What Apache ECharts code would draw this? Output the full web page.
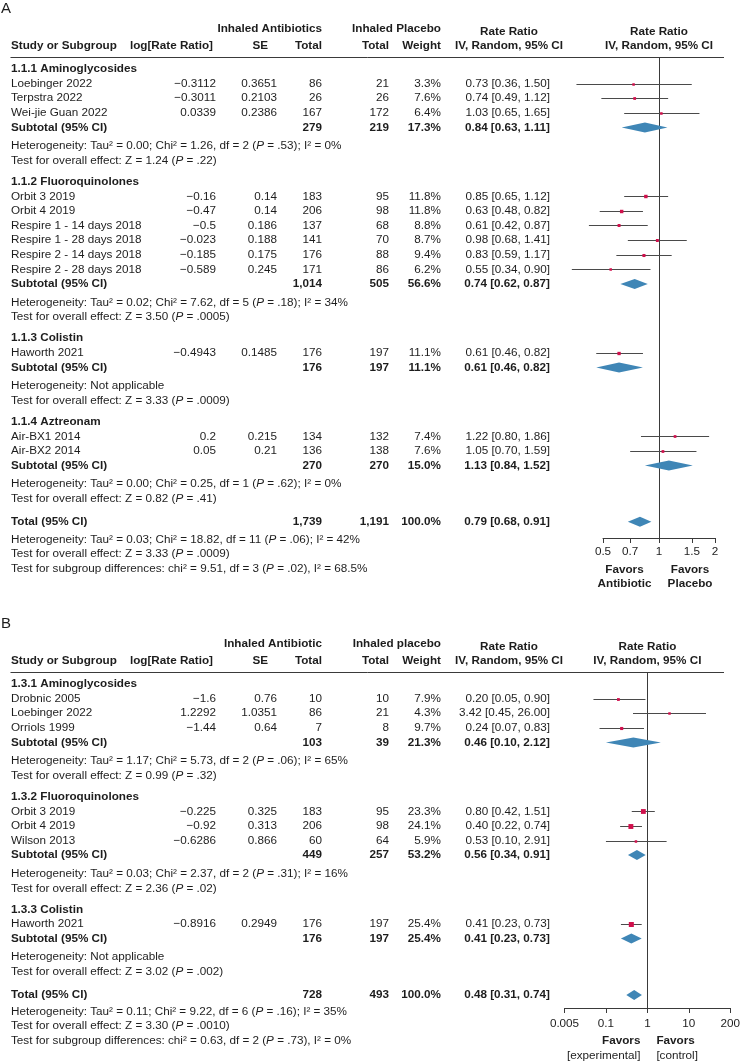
<!DOCTYPE html>
<html><head><meta charset="utf-8">
<script src="https://cdn.jsdelivr.net/npm/echarts@6/dist/echarts.min.js"></script>
<style>html,body{margin:0;padding:0;background:#fff}#c{width:743px;height:1062px}</style>
</head><body><div id="c"></div>
<script>
// ---------- Panel A data ----------
const aHeader = ["Inhaled Antibiotics", "Inhaled Placebo"];
const aGroups = ["1.1.1 Aminoglycosides", "1.1.2 Fluoroquinolones", "1.1.3 Colistin", "1.1.4 Aztreonam"];
const aStudy = ["Loebinger 2022", "Terpstra 2022", "Wei-jie Guan 2022", "Orbit 3 2019", "Orbit 4 2019",
  "Respire 1 - 14 days 2018", "Respire 1 - 28 days 2018", "Respire 2 - 14 days 2018", "Respire 2 - 28 days 2018",
  "Haworth 2021", "Air-BX1 2014", "Air-BX2 2014"];
const aStudyGroup = [0, 0, 0, 1, 1, 1, 1, 1, 1, 2, 3, 3];
const aLogRR = [-0.3112, -0.3011, 0.0339, -0.16, -0.47, -0.5, -0.023, -0.185, -0.589, -0.4943, 0.2, 0.05];
const aSE = [0.3651, 0.2103, 0.2386, 0.14, 0.14, 0.186, 0.188, 0.175, 0.245, 0.1485, 0.215, 0.21];
const aNExp = [86, 26, 167, 183, 206, 137, 141, 176, 171, 176, 134, 136];
const aNCtl = [21, 26, 172, 95, 98, 68, 70, 88, 86, 197, 132, 138];
const aWeight = [3.3, 7.6, 6.4, 11.8, 11.8, 8.8, 8.7, 9.4, 6.2, 11.1, 7.4, 7.6];
const aRR = [0.73, 0.74, 1.03, 0.85, 0.63, 0.61, 0.98, 0.83, 0.55, 0.61, 1.22, 1.05];
const aLo = [0.36, 0.49, 0.65, 0.65, 0.48, 0.42, 0.68, 0.59, 0.34, 0.46, 0.80, 0.70];
const aHi = [1.50, 1.12, 1.65, 1.12, 0.82, 0.87, 1.41, 1.17, 0.90, 0.82, 1.86, 1.59];
const aSubNExp = [279, 1014, 176, 270];
const aSubNCtl = [219, 505, 197, 270];
const aSubWeight = [17.3, 56.6, 11.1, 15.0];
const aSubRR = [0.84, 0.74, 0.61, 1.13];
const aSubLo = [0.63, 0.62, 0.46, 0.84];
const aSubHi = [1.11, 0.87, 0.82, 1.52];
const aHet = ["Tau² = 0.00; Chi² = 1.26, df = 2 (P = .53); I² = 0%",
  "Tau² = 0.02; Chi² = 7.62, df = 5 (P = .18); I² = 34%",
  "Not applicable",
  "Tau² = 0.00; Chi² = 0.25, df = 1 (P = .62); I² = 0%"];
const aTest = ["Z = 1.24 (P = .22)", "Z = 3.50 (P = .0005)", "Z = 3.33 (P = .0009)", "Z = 0.82 (P = .41)"];
const aTotalN = [1739, 1191];
const aTotalWeight = 100.0;
const aTotalEst = [0.79, 0.68, 0.91];
const aTotalHet = "Tau² = 0.03; Chi² = 18.82, df = 11 (P = .06); I² = 42%";
const aTotalTest = "Z = 3.33 (P = .0009)";
const aSubgroupDiff = "chi² = 9.51, df = 3 (P = .02), I² = 68.5%";
const aTickValues = [0.5, 0.7, 1, 1.5, 2];
const aTickLabels = ["0.5", "0.7", "1", "1.5", "2"];
const aFavors = ["Favors", "Antibiotic", "Favors", "Placebo"];

// ---------- Panel B data ----------
const bHeader = ["Inhaled Antibiotic", "Inhaled placebo"];
const bGroups = ["1.3.1 Aminoglycosides", "1.3.2 Fluoroquinolones", "1.3.3 Colistin"];
const bStudy = ["Drobnic 2005", "Loebinger 2022", "Orriols 1999", "Orbit 3 2019", "Orbit 4 2019", "Wilson 2013", "Haworth 2021"];
const bStudyGroup = [0, 0, 0, 1, 1, 1, 2];
const bLogRR = [-1.6, 1.2292, -1.44, -0.225, -0.92, -0.6286, -0.8916];
const bSE = [0.76, 1.0351, 0.64, 0.325, 0.313, 0.866, 0.2949];
const bNExp = [10, 86, 7, 183, 206, 60, 176];
const bNCtl = [10, 21, 8, 95, 98, 64, 197];
const bWeight = [7.9, 4.3, 9.7, 23.3, 24.1, 5.9, 25.4];
const bRR = [0.20, 3.42, 0.24, 0.80, 0.40, 0.53, 0.41];
const bLo = [0.05, 0.45, 0.07, 0.42, 0.22, 0.10, 0.23];
const bHi = [0.90, 26.00, 0.83, 1.51, 0.74, 2.91, 0.73];
const bSubNExp = [103, 449, 176];
const bSubNCtl = [39, 257, 197];
const bSubWeight = [21.3, 53.2, 25.4];
const bSubRR = [0.46, 0.56, 0.41];
const bSubLo = [0.10, 0.34, 0.23];
const bSubHi = [2.12, 0.91, 0.73];
const bHet = ["Tau² = 1.17; Chi² = 5.73, df = 2 (P = .06); I² = 65%",
  "Tau² = 0.03; Chi² = 2.37, df = 2 (P = .31); I² = 16%",
  "Not applicable"];
const bTest = ["Z = 0.99 (P = .32)", "Z = 2.36 (P = .02)", "Z = 3.02 (P = .002)"];
const bTotalN = [728, 493];
const bTotalWeight = 100.0;
const bTotalEst = [0.48, 0.31, 0.74];
const bTotalHet = "Tau² = 0.11; Chi² = 9.22, df = 6 (P = .16); I² = 35%";
const bTotalTest = "Z = 3.30 (P = .0010)";
const bSubgroupDiff = "chi² = 0.63, df = 2 (P = .73), I² = 0%";
const bTickValues = [0.01, 0.1, 1, 10, 100];
const bTickLabels = ["0.005", "0.1", "1", "10", "200"];
const bFavors = ["Favors", "[experimental]", "Favors", "[control]"];

const colHeads = ["Study or Subgroup", "log[Rate Ratio]", "SE", "Total", "Total", "Weight"];
const rrHead = ["Rate Ratio", "IV, Random, 95% CI"];

// ---------- style ----------
const FONT = '"Liberation Sans", Arial, Helvetica, sans-serif';
const FS = 11.7;
const INK = '#1d1d1d';
const LINE = '#4a4a4a';
const SQ = '#d0104c';
const DIA = '#3f86b6';
const RICH = { i: { fontStyle: 'italic', fontSize: FS, fontFamily: FONT, fill: INK } };
const COL = { name: 11, logrr: 216, se: 277, ne: 322, nc: 389, w: 441, rr: 550 };
const PITCH = 14.6, GAP_HET = 4, GAP_GROUP = 6.5, GAP_TOTAL = 8.5;

function fmtSigned(v) { return String(v).replace('-', '\u2212'); }
function fmtN(v) { return v.toLocaleString('en-US'); }
function fmtW(v) { return v.toFixed(1) + '%'; }
function fmtCI(r, l, h) { return r.toFixed(2) + ' [' + l.toFixed(2) + ', ' + h.toFixed(2) + ']'; }
function richP(s) { return s.replace(/\(P =/g, '({i|P} ='); }

function txt(x, y, text, align, o) {
  o = o || {};
  const st = { x: x, y: y, text: text, align: align, verticalAlign: 'middle', fill: INK,
    fontSize: o.size || FS, fontFamily: FONT, fontWeight: o.bold ? 'bold' : 'normal' };
  if (o.rich) st.rich = RICH;
  return { type: 'text', silent: true, style: st };
}

const panels = [
  { label: 'A', top: 0, axisY: 538, gridLeft: 603, gridWidth: 112, xMin: 0.5, xMax: 2,
    ticks: aTickValues, tickLabels: aTickLabels, tickMargin: 8, head: aHeader,
    groups: aGroups, study: aStudy, sg: aStudyGroup, logrr: aLogRR, se: aSE, ne: aNExp, nc: aNCtl,
    w: aWeight, rr: aRR, lo: aLo, hi: aHi,
    sne: aSubNExp, snc: aSubNCtl, sw: aSubWeight, srr: aSubRR, slo: aSubLo, shi: aSubHi,
    het: aHet, test: aTest, totN: aTotalN, totW: aTotalWeight, totEst: aTotalEst,
    totHet: aTotalHet, totTest: aTotalTest, subDiff: aSubgroupDiff,
    favors: aFavors, favorsMode: 'center', gapAfterTotal: 3, favorsDy: [32, 46] },
  { label: 'B', top: 615, axisY: 1008, gridLeft: 564.5, gridWidth: 170, xMin: 0.01, xMax: 100,
    ticks: bTickValues, tickLabels: bTickLabels, tickMargin: 10, head: bHeader,
    groups: bGroups, study: bStudy, sg: bStudyGroup, logrr: bLogRR, se: bSE, ne: bNExp, nc: bNCtl,
    w: bWeight, rr: bRR, lo: bLo, hi: bHi,
    sne: bSubNExp, snc: bSubNCtl, sw: bSubWeight, srr: bSubRR, slo: bSubLo, shi: bSubHi,
    het: bHet, test: bTest, totN: bTotalN, totW: bTotalWeight, totEst: bTotalEst,
    totHet: bTotalHet, totTest: bTotalTest, subDiff: bSubgroupDiff,
    favors: bFavors, favorsMode: 'side', gapAfterTotal: 2, favorsDy: [33, 48] }
];

function buildRows(P) {
  const rows = [];
  const t = P.top;
  rows.push({ kind: 'header', y: t });
  let y = t + 69;
  P.groups.forEach(function (g, gi) {
    if (gi > 0) y += PITCH + GAP_GROUP;
    rows.push({ kind: 'group', y: y, g: gi });
    P.sg.forEach(function (sgi, si) {
      if (sgi === gi) { y += PITCH; rows.push({ kind: 'study', y: y, s: si }); }
    });
    y += PITCH; rows.push({ kind: 'sub', y: y, g: gi });
    y += PITCH + GAP_HET; rows.push({ kind: 'het', y: y, g: gi });
    y += PITCH; rows.push({ kind: 'test', y: y, g: gi });
  });
  y += PITCH + GAP_TOTAL; rows.push({ kind: 'total', y: y });
  y += PITCH + P.gapAfterTotal; rows.push({ kind: 'totHet', y: y });
  y += PITCH; rows.push({ kind: 'totTest', y: y });
  y += PITCH; rows.push({ kind: 'subDiff', y: y });
  rows.push({ kind: 'axisText', y: P.axisY });
  return rows;
}
panels.forEach(function (P) { P.rows = buildRows(P); });

function makeRender(P) {
  return function (params, api) {
    const row = P.rows[params.dataIndex];
    const c = [];
    const X = function (v) { return api.coord([v, row.y])[0]; };
    const yy = api.coord([1, row.y])[1];
    const x1 = X(1);
    const diamond = function (r, l, h) {
      c.push({ type: 'polygon', silent: true,
        shape: { points: [[X(l), yy], [X(r), yy - 5], [X(h), yy], [X(r), yy + 5]] },
        style: { fill: DIA } });
    };
    switch (row.kind) {
      case 'header': {
        const t = P.top;
        c.push(txt(1, t + 9, P.label, 'left', { size: 15 }));
        c.push(txt(COL.ne, t + 29, P.head[0], 'right', { bold: true }));
        c.push(txt(COL.w, t + 29, P.head[1], 'right', { bold: true }));
        c.push(txt(509, t + 32, rrHead[0], 'center', { bold: true }));
        c.push(txt(509, t + 46, rrHead[1], 'center', { bold: true }));
        c.push(txt(x1, t + 32, rrHead[0], 'center', { bold: true }));
        c.push(txt(x1, t + 46, rrHead[1], 'center', { bold: true }));
        const h2 = t + 45.5;
        c.push(txt(COL.name, h2, colHeads[0], 'left', { bold: true }));
        c.push(txt(213, h2, colHeads[1], 'right', { bold: true }));
        c.push(txt(268, h2, colHeads[2], 'right', { bold: true }));
        c.push(txt(COL.ne, h2, colHeads[3], 'right', { bold: true }));
        c.push(txt(COL.nc, h2, colHeads[4], 'right', { bold: true }));
        c.push(txt(COL.w, h2, colHeads[5], 'right', { bold: true }));
        const sepY = Math.round(t + 57) + 0.5;
        c.push({ type: 'line', silent: true, shape: { x1: 10.5, y1: sepY, x2: 724, y2: sepY },
          style: { stroke: '#3a3a3a', lineWidth: 1 } });
        const xl = Math.round(x1) + 0.5;
        const yb = api.coord([1, P.axisY])[1];
        c.push({ type: 'line', silent: true, shape: { x1: xl, y1: sepY, x2: xl, y2: yb },
          style: { stroke: '#3a3a3a', lineWidth: 1 } });
        break;
      }
      case 'group':
        c.push(txt(COL.name, yy, P.groups[row.g], 'left', { bold: true }));
        break;
      case 'study': {
        const s = row.s;
        c.push(txt(COL.name, yy, P.study[s], 'left'));
        c.push(txt(COL.logrr, yy, fmtSigned(P.logrr[s]), 'right'));
        c.push(txt(COL.se, yy, fmtSigned(P.se[s]), 'right'));
        c.push(txt(COL.ne, yy, fmtN(P.ne[s]), 'right'));
        c.push(txt(COL.nc, yy, fmtN(P.nc[s]), 'right'));
        c.push(txt(COL.w, yy, fmtW(P.w[s]), 'right'));
        c.push(txt(COL.rr, yy, fmtCI(P.rr[s], P.lo[s], P.hi[s]), 'right'));
        const yl = Math.round(yy) + 0.5;
        c.push({ type: 'line', silent: true, shape: { x1: X(P.lo[s]), y1: yl, x2: X(P.hi[s]), y2: yl },
          style: { stroke: LINE, lineWidth: 1 } });
        const sz = Math.max(2.5, Math.sqrt(P.w[s]));
        const cx = X(P.rr[s]);
        c.push({ type: 'rect', silent: true, shape: { x: cx - sz / 2, y: yl - sz / 2, width: sz, height: sz },
          style: { fill: SQ } });
        break;
      }
      case 'sub': {
        const g = row.g;
        c.push(txt(COL.name, yy, 'Subtotal (95% CI)', 'left', { bold: true }));
        c.push(txt(COL.ne, yy, fmtN(P.sne[g]), 'right', { bold: true }));
        c.push(txt(COL.nc, yy, fmtN(P.snc[g]), 'right', { bold: true }));
        c.push(txt(COL.w, yy, fmtW(P.sw[g]), 'right', { bold: true }));
        c.push(txt(COL.rr, yy, fmtCI(P.srr[g], P.slo[g], P.shi[g]), 'right', { bold: true }));
        diamond(P.srr[g], P.slo[g], P.shi[g]);
        break;
      }
      case 'het':
        c.push(txt(COL.name, yy, 'Heterogeneity: ' + richP(P.het[row.g]), 'left', { rich: true }));
        break;
      case 'test':
        c.push(txt(COL.name, yy, 'Test for overall effect: ' + richP(P.test[row.g]), 'left', { rich: true }));
        break;
      case 'total':
        c.push(txt(COL.name, yy, 'Total (95% CI)', 'left', { bold: true }));
        c.push(txt(COL.ne, yy, fmtN(P.totN[0]), 'right', { bold: true }));
        c.push(txt(COL.nc, yy, fmtN(P.totN[1]), 'right', { bold: true }));
        c.push(txt(COL.w, yy, fmtW(P.totW), 'right', { bold: true }));
        c.push(txt(COL.rr, yy, fmtCI(P.totEst[0], P.totEst[1], P.totEst[2]), 'right', { bold: true }));
        diamond(P.totEst[0], P.totEst[1], P.totEst[2]);
        break;
      case 'totHet':
        c.push(txt(COL.name, yy, 'Heterogeneity: ' + richP(P.totHet), 'left', { rich: true }));
        break;
      case 'totTest':
        c.push(txt(COL.name, yy, 'Test for overall effect: ' + richP(P.totTest), 'left', { rich: true }));
        break;
      case 'subDiff':
        c.push(txt(COL.name, yy, 'Test for subgroup differences: ' + richP(P.subDiff), 'left', { rich: true }));
        break;
      case 'axisText': {
        const f = P.favors;
        const y1 = yy + P.favorsDy[0], y2 = yy + P.favorsDy[1];
        if (P.favorsMode === 'center') {
          c.push(txt(x1 - 34.5, y1, f[0], 'center', { bold: true }));
          c.push(txt(x1 - 34.5, y2, f[1], 'center', { bold: true }));
          c.push(txt(x1 + 31, y1, f[2], 'center', { bold: true }));
          c.push(txt(x1 + 31, y2, f[3], 'center', { bold: true }));
        } else {
          c.push(txt(x1 - 7, y1, f[0], 'right', { bold: true }));
          c.push(txt(x1 - 7, y2, f[1], 'right'));
          c.push(txt(x1 + 9, y1, f[2], 'left', { bold: true }));
          c.push(txt(x1 + 9, y2, f[3], 'left'));
        }
        break;
      }
    }
    return { type: 'group', children: c };
  };
}

function tickFormatter(P) {
  return function (v) {
    for (let i = 0; i < P.ticks.length; i++) {
      if (Math.abs(Math.log10(v) - Math.log10(P.ticks[i])) < 1e-6) return P.tickLabels[i];
    }
    return '';
  };
}

const option = {
  animation: false,
  backgroundColor: '#fff',
  grid: panels.map(function (P) {
    return { left: P.gridLeft, width: P.gridWidth, top: 0, height: P.axisY, containLabel: false };
  }),
  xAxis: panels.map(function (P, i) {
    return {
      type: 'log', logBase: 10, gridIndex: i, min: P.xMin, max: P.xMax, position: 'bottom',
      axisLine: { show: true, onZero: false, lineStyle: { color: '#3a3a3a', width: 1 } },
      axisTick: { show: true, length: 5, customValues: P.ticks, lineStyle: { color: '#3a3a3a' } },
      axisLabel: { show: true, customValues: P.ticks, formatter: tickFormatter(P), margin: P.tickMargin,
        color: INK, fontSize: FS, fontFamily: FONT, showMinLabel: true, showMaxLabel: true },
      splitLine: { show: false }, minorTick: { show: false }
    };
  }),
  yAxis: panels.map(function (P, i) {
    return { type: 'value', gridIndex: i, min: 0, max: P.axisY, inverse: true, show: false,
      splitLine: { show: false } };
  }),
  series: panels.map(function (P, i) {
    return {
      type: 'custom', xAxisIndex: i, yAxisIndex: i, clip: false, silent: true,
      renderItem: makeRender(P),
      encode: { x: 0, y: 1 },
      data: P.rows.map(function (r) { return [1, r.y]; })
    };
  })
};

const chart = echarts.init(document.getElementById('c'), null, { renderer: 'canvas' });
chart.setOption(option);
</script></body></html>
